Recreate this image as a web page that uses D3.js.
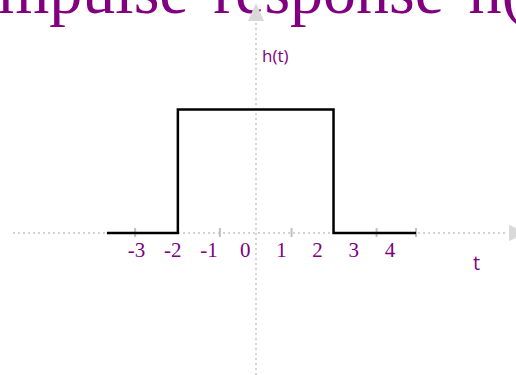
<!DOCTYPE html>
<html><head><meta charset="utf-8">
<script src="https://cdn.jsdelivr.net/npm/d3@7"></script>
<style>html,body{margin:0;padding:0;background:#fff;overflow:hidden}</style>
</head><body>
<script>
// Data
const titleText = "Impulse response h(t)";
const tickLabels = ["-3","-2","-1","0","1","2","3","4"];
const tickValues = [-3,-2,-1,0,1,2,3,4];
const signalT = [-3.82, -1.86, -1.86, 2.44, 2.44, 4.72];
const signalH = [0, 0, 1, 1, 0, 0];
const axisTickMarks = [-3.04, -0.70, 1.28, 3.63, 4.72];

const W = 516, H = 375;
const purple = "#800080", grey = "#d4d4d4";
const svg = d3.select("body").append("svg").attr("width", W).attr("height", H);

const x = d3.scaleLinear().domain([0, 1]).range([245.2, 281.4]);
const y = d3.scaleLinear().domain([0, 1]).range([233, 109.5]);

// Title
svg.append("text").attr("x", -24).attr("y", 13)
  .attr("font-family", "'Liberation Serif', serif").attr("font-size", 66)
  .attr("word-spacing", 8)
  .attr("fill", purple).text(titleText);

// Axes (dotted)
const yAxisX = 256;
svg.append("line").attr("x1", 13).attr("x2", 508).attr("y1", y(0)).attr("y2", y(0))
  .attr("stroke", grey).attr("stroke-width", 2).attr("stroke-dasharray", "2,3");
svg.append("path").attr("d", `M509,${y(0)-8}L527,${y(0)}L509,${y(0)+8}Z`).attr("fill", "#d9d9d9");
svg.append("line").attr("x1", yAxisX).attr("x2", yAxisX).attr("y1", 23).attr("y2", H)
  .attr("stroke", grey).attr("stroke-width", 2).attr("stroke-dasharray", "2,3");
svg.append("path").attr("d", `M${yAxisX-8},21L${yAxisX},3L${yAxisX+8},21Z`).attr("fill", "#d9d9d9");

// grey tick marks
svg.selectAll("line.tk").data(axisTickMarks).enter().append("line").attr("class","tk")
  .attr("x1", d => x(d)).attr("x2", d => x(d)).attr("y1", y(0)-5).attr("y2", y(0)+4)
  .attr("stroke", "#bfbfbf").attr("stroke-width", 2);

// Signal
const line = d3.line().x((d,i) => x(signalT[i])).y((d,i) => y(signalH[i]));
svg.append("path").datum(signalT).attr("d", line)
  .attr("fill", "none").attr("stroke", "#000").attr("stroke-width", 2.5);

// tick labels
svg.selectAll("text.tl").data(tickValues).enter().append("text").attr("class","tl")
  .attr("x", d => x(d)).attr("y", 256.5).attr("text-anchor", "middle")
  .attr("font-family", "'Liberation Serif', serif").attr("font-size", 21)
  .attr("fill", purple).text((d,i) => tickLabels[i]);

// axis labels
svg.append("text").attr("x", 262).attr("y", 62)
  .attr("font-family", "'Open Sans', sans-serif").attr("font-size", 17)
  .attr("fill", purple).text("h(t)");
svg.append("text").attr("x", 473).attr("y", 270)
  .attr("font-family", "'Open Sans', sans-serif").attr("font-size", 20)
  .attr("fill", purple).text("t");
</script>
</body></html>
